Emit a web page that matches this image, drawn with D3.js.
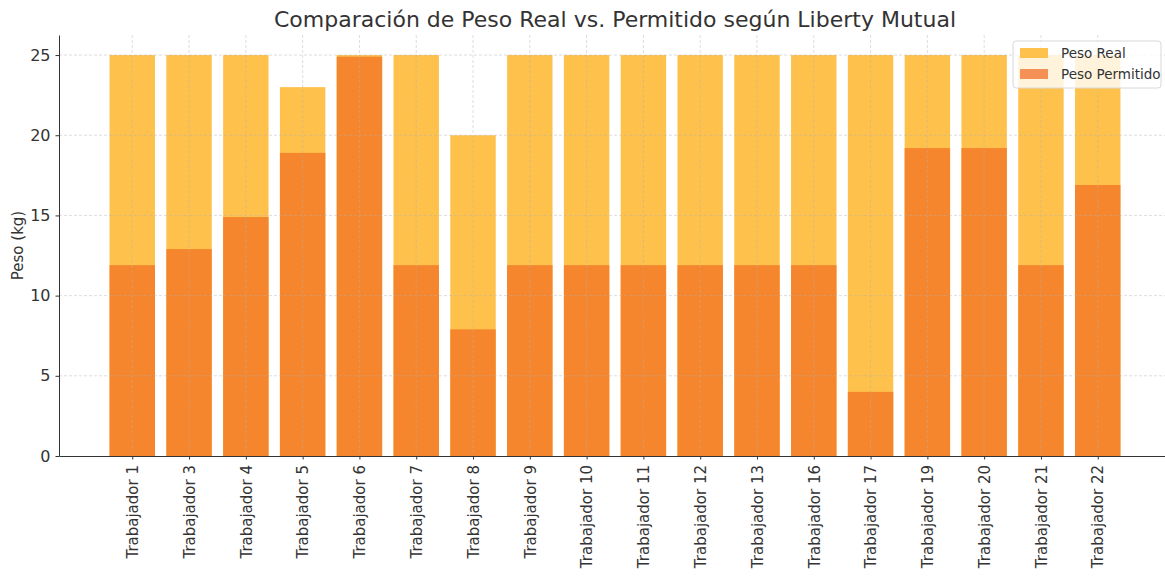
<!DOCTYPE html>
<html>
<head>
<meta charset="utf-8">
<script src="https://cdn.jsdelivr.net/npm/d3@7"></script>
<style>
  body { margin: 0; background: #fff; }
  svg { display: block; font-family: "DejaVu Sans", sans-serif; }
</style>
</head>
<body>
<svg id="chart" width="1165" height="577"></svg>
<script>
// Data
var workers = ["Trabajador 1", "Trabajador 3", "Trabajador 4", "Trabajador 5", "Trabajador 6",
  "Trabajador 7", "Trabajador 8", "Trabajador 9", "Trabajador 10", "Trabajador 11",
  "Trabajador 12", "Trabajador 13", "Trabajador 16", "Trabajador 17", "Trabajador 19",
  "Trabajador 20", "Trabajador 21", "Trabajador 22"];
var pesoReal = [25, 25, 25, 23, 25, 25, 20, 25, 25, 25, 25, 25, 25, 25, 25, 25, 25, 25];
var pesoPermitido = [11.9, 12.9, 14.9, 18.9, 24.9, 11.9, 7.9, 11.9, 11.9, 11.9, 11.9, 11.9, 11.9, 4, 19.2, 19.2, 11.9, 16.9];
var yTicks = [0, 5, 10, 15, 20, 25];

(function() {

var svg = d3.select("#chart");
var plotLeft = 59, plotRight = 1171, plotTop = 35, plotBottom = 456;
var barWidth = 0.8;

// x is an index scale, matplotlib style margins
var x = d3.scaleLinear().domain([-1.29, workers.length - 1 + 1.29]).range([plotLeft, plotRight]);
var y = d3.scaleLinear().domain([0, 26.25]).range([plotBottom, plotTop]);

var textColor = "#333";

// bars: Peso Real first, Permitido drawn on top
svg.append("g").selectAll("rect")
  .data(pesoReal)
  .enter()
  .append("rect")
  .attr("x", function(d, i) { return x(i - barWidth / 2); })
  .attr("width", x(barWidth) - x(0))
  .attr("y", function(d) { return y(d); })
  .attr("height", function(d) { return y(0) - y(d); })
  .attr("fill", "#fec24c");

svg.append("g").selectAll("rect")
  .data(pesoPermitido)
  .enter()
  .append("rect")
  .attr("x", function(d, i) { return x(i - barWidth / 2); })
  .attr("width", x(barWidth) - x(0))
  .attr("y", function(d) { return y(d); })
  .attr("height", function(d) { return y(0) - y(d); })
  .attr("fill", "#f5862e");

// dashed grid on top of the bars
var grid = svg.append("g")
  .attr("stroke", "#b0b0b0")
  .attr("stroke-opacity", 0.55)
  .attr("stroke-dasharray", "3,2")
  .attr("stroke-width", 0.8);

grid.selectAll("line.h")
  .data(yTicks.slice(1))
  .enter()
  .append("line")
  .attr("x1", plotLeft).attr("x2", plotRight)
  .attr("y1", function(d) { return y(d); })
  .attr("y2", function(d) { return y(d); });

grid.selectAll("line.v")
  .data(workers)
  .enter()
  .append("line")
  .attr("y1", plotTop).attr("y2", plotBottom)
  .attr("x1", function(d, i) { return x(i); })
  .attr("x2", function(d, i) { return x(i); });

// axes
var yAxis = svg.append("g")
  .attr("transform", "translate(" + plotLeft + ",0)")
  .call(d3.axisLeft(y).tickValues(yTicks).tickSize(3.5).tickPadding(5).tickSizeOuter(0));

var xAxis = svg.append("g")
  .attr("transform", "translate(0," + plotBottom + ")")
  .call(d3.axisBottom(x).tickValues(d3.range(workers.length))
    .tickFormat(function(i) { return workers[i]; }).tickSize(3.5).tickPadding(5).tickSizeOuter(0));

[xAxis, yAxis].forEach(function(ax) {
  ax.select(".domain").attr("stroke", textColor).attr("stroke-width", 1);
  ax.selectAll(".tick line").attr("stroke", textColor);
  ax.selectAll("text")
    .attr("fill", textColor)
    .style("font-family", "DejaVu Sans")
    .style("font-size", "15px");
});
yAxis.selectAll("text").style("font-size", "16px");

// rotate category labels
xAxis.selectAll(".tick text")
  .attr("transform", "rotate(-90)")
  .attr("text-anchor", "end")
  .attr("dy", "0.35em")
  .attr("x", -9)
  .attr("y", 0);

// labels
svg.append("text")
  .attr("x", (plotLeft + plotRight) / 2)
  .attr("y", 27)
  .attr("text-anchor", "middle")
  .attr("fill", textColor)
  .style("font-size", "22px")
  .text("Comparación de Peso Real vs. Permitido según Liberty Mutual");

svg.append("text")
  .attr("transform", "translate(23," + (plotTop + plotBottom) / 2 + ") rotate(-90)")
  .attr("text-anchor", "middle")
  .attr("fill", textColor)
  .style("font-size", "15px")
  .text("Peso (kg)");

// legend
var legend = svg.append("g").attr("transform", "translate(1013,41)");
legend.append("rect")
  .attr("width", 148).attr("height", 47)
  .attr("rx", 3)
  .attr("fill", "#fff").attr("fill-opacity", 0.8)
  .attr("stroke", "#d8d8d8");

var legendItems = [
  { name: "Peso Real", color: "#fec24c" },
  { name: "Peso Permitido", color: "#f59157" }
];

var item = legend.selectAll("g.item")
  .data(legendItems)
  .enter()
  .append("g")
  .attr("transform", function(d, i) { return "translate(7," + (7 + i * 21) + ")"; });

item.append("rect")
  .attr("width", 28).attr("height", 10)
  .attr("fill", function(d) { return d.color; });

item.append("text")
  .attr("x", 41).attr("y", 5)
  .attr("dy", "0.35em")
  .attr("fill", textColor)
  .style("font-size", "13.5px")
  .text(function(d) { return d.name; });

})();
</script>
</body>
</html>
